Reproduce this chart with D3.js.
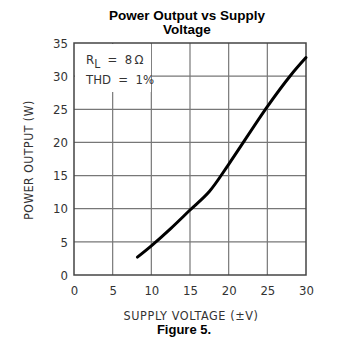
<!DOCTYPE html>
<html><head><meta charset="utf-8">
<script src="https://cdn.jsdelivr.net/npm/d3@7"></script>
<style>body{margin:0;background:#fff}</style>
</head><body>
<svg id="c" width="339" height="343"></svg>
<script>
const voltage = [8.2, 10, 12.5, 15, 17.5, 20, 25, 28, 30];
const power   = [2.7, 4.4, 7.0, 9.8, 12.6, 16.7, 25.4, 30.1, 32.8];
const xTicks = [0, 5, 10, 15, 20, 25, 30];
const yTicks = [0, 5, 10, 15, 20, 25, 30, 35];

const svg = d3.select("#c");
const L = 74, R = 306, T = 43, B = 275;
const x = d3.scaleLinear().domain([0, 30]).range([L, R]);
const y = d3.scaleLinear().domain([0, 35]).range([B, T]);
const tickFont = "'DejaVu Sans Condensed','DejaVu Sans',sans-serif";
const txt = "#333";

// grid
svg.append("g").selectAll("line").data(xTicks.slice(1, -1)).join("line")
  .attr("x1", d => x(d)).attr("x2", d => x(d)).attr("y1", T).attr("y2", B)
  .attr("stroke", "#777").attr("stroke-width", 1.2);
svg.append("g").selectAll("line").data(yTicks.slice(1, -1)).join("line")
  .attr("y1", d => y(d)).attr("y2", d => y(d)).attr("x1", L).attr("x2", R)
  .attr("stroke", "#777").attr("stroke-width", 1.2);

// annotation background
svg.append("rect").attr("x", L + 1).attr("y", T + 1).attr("width", 76).attr("height", 48).attr("fill", "#fff");

// border
svg.append("rect").attr("x", L).attr("y", T).attr("width", R - L).attr("height", B - T)
  .attr("fill", "none").attr("stroke", "#444").attr("stroke-width", 1.5);

// axes labels via d3 axes
const xAxis = svg.append("g").attr("transform", `translate(0,${B})`)
  .call(d3.axisBottom(x).tickValues(xTicks).tickSize(0).tickPadding(11));
const yAxis = svg.append("g").attr("transform", `translate(${L},0)`)
  .call(d3.axisLeft(y).tickValues(yTicks).tickSize(0).tickPadding(6));
[xAxis, yAxis].forEach(a => {
  a.select(".domain").remove();
  a.selectAll("text").attr("font-family", tickFont).attr("font-size", 13).attr("fill", txt);
});

// curve
svg.append("path").datum(voltage.map((v, i) => [v, power[i]]))
  .attr("fill", "none").attr("stroke", "#000").attr("stroke-width", 3)
  .attr("stroke-linecap", "round")
  .attr("d", d3.line().x(d => x(d[0])).y(d => y(d[1])).curve(d3.curveCatmullRom.alpha(0.5)));

// title
const tf = "'Liberation Sans',Arial,sans-serif";
svg.append("text").attr("x", 187).attr("y", 20).attr("text-anchor", "middle")
  .attr("font-family", tf).attr("font-weight", "bold").attr("font-size", 13.5)
  .text("Power Output vs Supply");
svg.append("text").attr("x", 187).attr("y", 34).attr("text-anchor", "middle")
  .attr("font-family", tf).attr("font-weight", "bold").attr("font-size", 13.5)
  .text("Voltage");

// annotation
const ann = svg.append("text").attr("x", 86).attr("y", 64)
  .attr("font-family", tickFont).attr("font-size", 13).attr("fill", txt).attr("xml:space", "preserve");
ann.append("tspan").text("R");
ann.append("tspan").attr("dy", 4).attr("font-size", 12).text("L");
ann.append("tspan").attr("dy", -4).text("  =  8\u2009\u03A9");
svg.append("text").attr("x", 86).attr("y", 84)
  .attr("font-family", tickFont).attr("font-size", 13).attr("fill", txt)
  .attr("xml:space", "preserve").text("THD  =  1%");

// axis titles
svg.append("text").attr("x", 191).attr("y", 320).attr("text-anchor", "middle")
  .attr("font-family", tickFont).attr("font-size", 12.5).attr("letter-spacing", 0.6).attr("fill", txt)
  .text("SUPPLY VOLTAGE (\u00B1V)");
svg.append("text").attr("transform", `translate(33,160) rotate(-90)`).attr("text-anchor", "middle")
  .attr("font-family", tickFont).attr("font-size", 12).attr("letter-spacing", 0.6).attr("fill", txt)
  .text("POWER OUTPUT (W)");

svg.append("text").attr("x", 184).attr("y", 334).attr("text-anchor", "middle")
  .attr("font-family", tf).attr("font-weight", "bold").attr("font-size", 13)
  .text("Figure 5.");
</script>
</body></html>
